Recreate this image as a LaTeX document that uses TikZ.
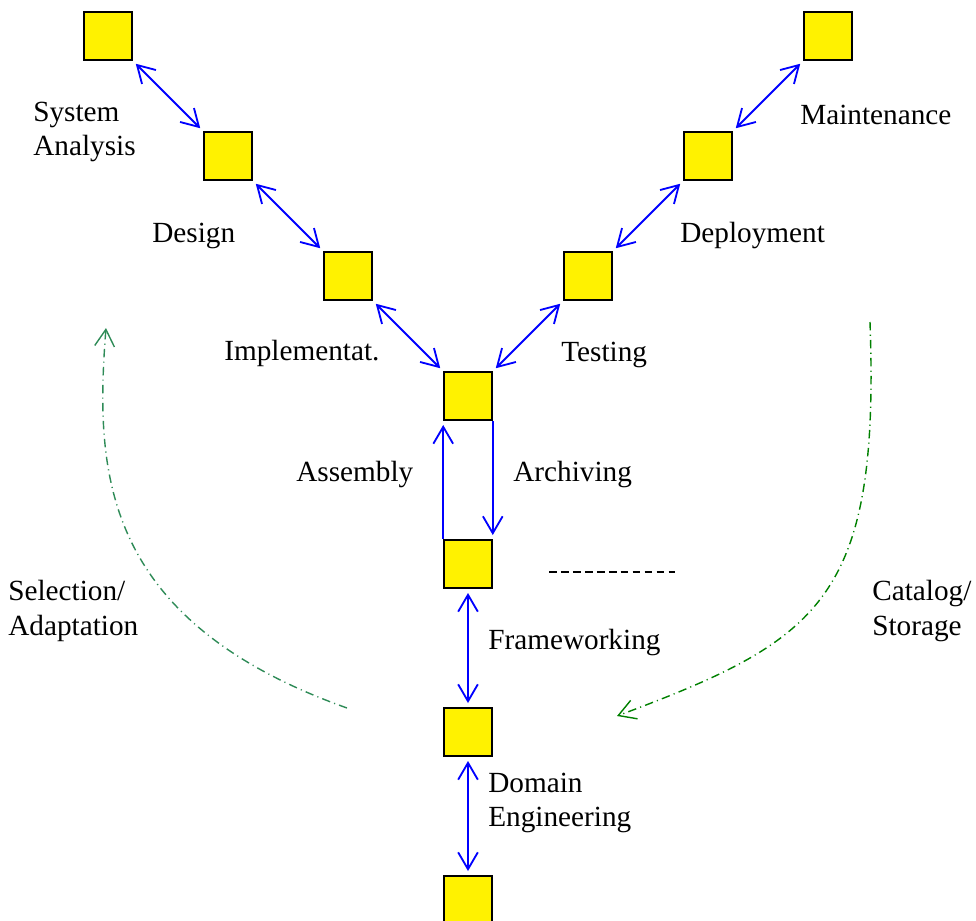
\documentclass[tikz,border=0pt]{standalone}
\usepackage{fontspec}
\setmainfont{Liberation Serif}
\usetikzlibrary{arrows.meta}
\definecolor{selgreen}{RGB}{46,139,87}
\definecolor{catgreen}{RGB}{0,128,0}

\begin{document}
\begin{tikzpicture}[x=0.025cm,y=-0.025cm,
  >={Straight Barb[length=12pt,width=14pt]},
  box/.style={draw,fill=yellow,line width=1.1pt,minimum size=1.2cm,inner sep=0pt},
  flow/.style={blue,line width=1.3pt,shorten <=3pt,shorten >=3pt},
  reuse/.style={line width=1pt,dash pattern=on 6pt off 3pt on 0.8pt off 3pt},
  lab/.style={align=left,inner sep=0pt,anchor=west,font=\fontsize{20.8}{24.5}\selectfont}]
  \useasboundingbox (0,0) rectangle (976,921);
  \node[box] (1) at (108,36) {};
  \node[box] (2) at (228,156) {};
  \node[box] (3) at (348,276) {};
  \node[box] (4) at (468,396) {};
  \node[box] (5) at (588,276) {};
  \node[box] (6) at (708,156) {};
  \node[box] (7) at (828,36) {};
  \node[box] (8) at (468,564) {};
  \node[box] (9) at (468,732) {};
  \node[box] (10) at (468,900) {};
  \node[lab] (sa) at (33,132) {System\\Analysis};
  \node[lab] (de) at (152,236) {Design};
  \node[lab] (im) at (224,353) {Implementat.};
  \node[lab] (te) at (561,355) {Testing};
  \node[lab] (dp) at (680,236) {Deployment};
  \node[lab] (ma) at (800,115) {Maintenance};
  \node[lab] (as) at (296,475) {Assembly};
  \node[lab] (ar) at (513,475) {Archiving};
  \node[lab] (fw) at (488,643) {Frameworking};
  \node[lab] (dm) at (488,803) {Domain\\Engineering};
  \node[lab] (sel) at (8,611) {Selection/\\Adaptation};
  \node[lab] (cat) at (872,611) {Catalog/\\Storage};
  \coordinate (d1) at (549,572);
  \coordinate (d2) at (675,572);
  \coordinate (s1) at (347,708);
  \coordinate (s2) at (106,328);
  \coordinate (c1) at (870,322);
  \coordinate (c2) at (617,716);
  \draw[flow,<->] (1.south east) -- (2.north west);
  \draw[flow,<->] (2.south east) -- (3.north west);
  \draw[flow,<->] (3.south east) -- (4.north west);
  \draw[flow,<->] (4.north east) -- (5.south west);
  \draw[flow,<->] (5.north east) -- (6.south west);
  \draw[flow,<->] (6.north east) -- (7.south west);
  \draw[flow,->,shorten <=0pt] (8.north west) -- (4.south west);
  \draw[flow,->,shorten <=0pt] (4.south east) -- (8.north east);
  \draw[flow,<->] (8) -- (9);
  \draw[flow,<->] (9) -- (10);
  \draw[line width=0.9pt,dash pattern=on 5.5pt off 3pt] (d1) -- (d2);
  \draw[reuse,selgreen,->] (s1) .. controls (100,620) and (95,470) .. (s2);
  \draw[reuse,catgreen,->] (c1) .. controls (880,600) and (820,640) .. (c2);
\end{tikzpicture}
\end{document}
